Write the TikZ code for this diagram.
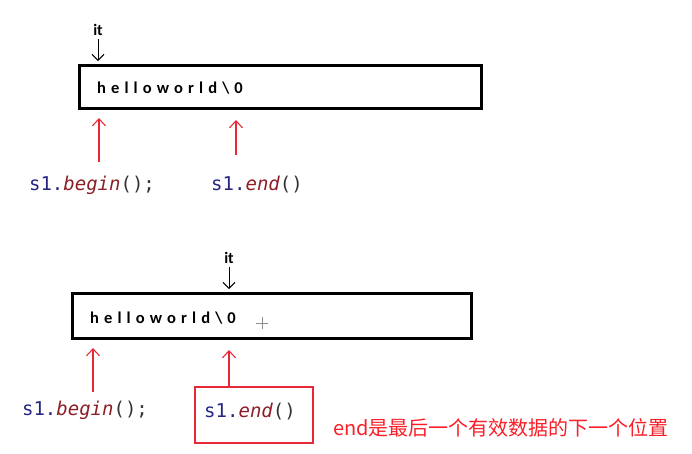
\documentclass[tikz,border=0pt]{standalone}
\usepackage{fontspec}
\setmainfont{Carlito}
\newfontfamily\codefont{DejaVu Sans Mono}
\newfontfamily\cjk{Noto Sans CJK SC}
\newfontfamily\strfont[LetterSpace=31]{Carlito}
\usetikzlibrary{arrows.meta,positioning}

\definecolor{codeblue}{RGB}{38,38,130}
\definecolor{codered}{RGB}{140,30,40}
\definecolor{markred}{RGB}{232,40,55}
\definecolor{notered}{RGB}{250,30,40}

\newcommand{\callbegin}{{\codefont\color{codeblue}s1.\textit{\color{codered}begin}\color{black!80}();}}
\newcommand{\callend}{{\codefont\color{codeblue}s1.\textit{\color{codered}end}\color{black!80}()}}

\begin{document}
\begin{tikzpicture}[x=1pt,y=-1pt,
  strbox/.style={draw=black,line width=3pt},
  strtext/.style={anchor=west,inner sep=0pt,font=\strfont\bfseries\fontsize{16.5}{18}\selectfont},
  itlabel/.style={inner sep=0pt,font=\bfseries\fontsize{16}{18}\selectfont},
  itarrow/.style={-{Straight Barb[length=6pt,width=12pt]},line width=1pt},
  redarrow/.style={-{Straight Barb[length=7pt,width=13pt]},markred,line width=1.1pt},
  calllabel/.style={inner sep=0pt,font=\fontsize{19}{21}\selectfont}]
\useasboundingbox (0,0) rectangle (692,453);
% first string: it sits on begin()
\draw[strbox] (79,65) rectangle (481,108);
\node[strtext] (str1) at (97,88) {helloworld\textbackslash0};
\node[itlabel] (it1) at (98,30) {it};
\coordinate (itTip1) at (98,61);
\draw[itarrow] (it1.south) ++(0,3) coordinate (itTail1) (itTail1) -- (itTip1);
\node[calllabel] (beg1) at (92,185) {\callbegin};
\node[calllabel] (end1) at (257,185) {\callend};
\coordinate (begTip1) at (99,118);
\coordinate (begTail1) at (99,162);
\coordinate (endTip1) at (236,120);
\coordinate (endTail1) at (236,155);
\draw[redarrow] (begTail1) -- (begTip1);
\draw[redarrow] (endTail1) -- (endTip1);
% second string: it sits on end()
\draw[strbox] (72,293) rectangle (471,338);
\node[strtext] (str2) at (90,318) {helloworld\textbackslash0};
\node[itlabel] (it2) at (229,258) {it};
\coordinate (itTip2) at (229,289);
\draw[itarrow] (it2.south) ++(0,3) coordinate (itTail2) (itTail2) -- (itTip2);
% mouse cursor
\draw[black!45,line width=0.6pt] (256,323) -- (268,323) (262,317) -- (262,329);
\node[calllabel] (beg2) at (85,410) {\callbegin};
\node[calllabel] (end2) at (250,412) {\callend};
\draw[markred,line width=1.2pt] (195,387) rectangle (313,443);
\coordinate (begTip2) at (93,348);
\coordinate (begTail2) at (93,392);
\coordinate (endTip2) at (229,350);
\coordinate (endTail2) at (229,387);
\draw[redarrow] (begTail2) -- (begTip2);
\draw[redarrow] (endTail2) -- (endTip2);
\node[anchor=west,inner sep=0pt,text=notered,font=\cjk\fontsize{20}{22}\selectfont] (note) at (333,428) {end是最后一个有效数据的下一个位置};
\end{tikzpicture}
\end{document}
